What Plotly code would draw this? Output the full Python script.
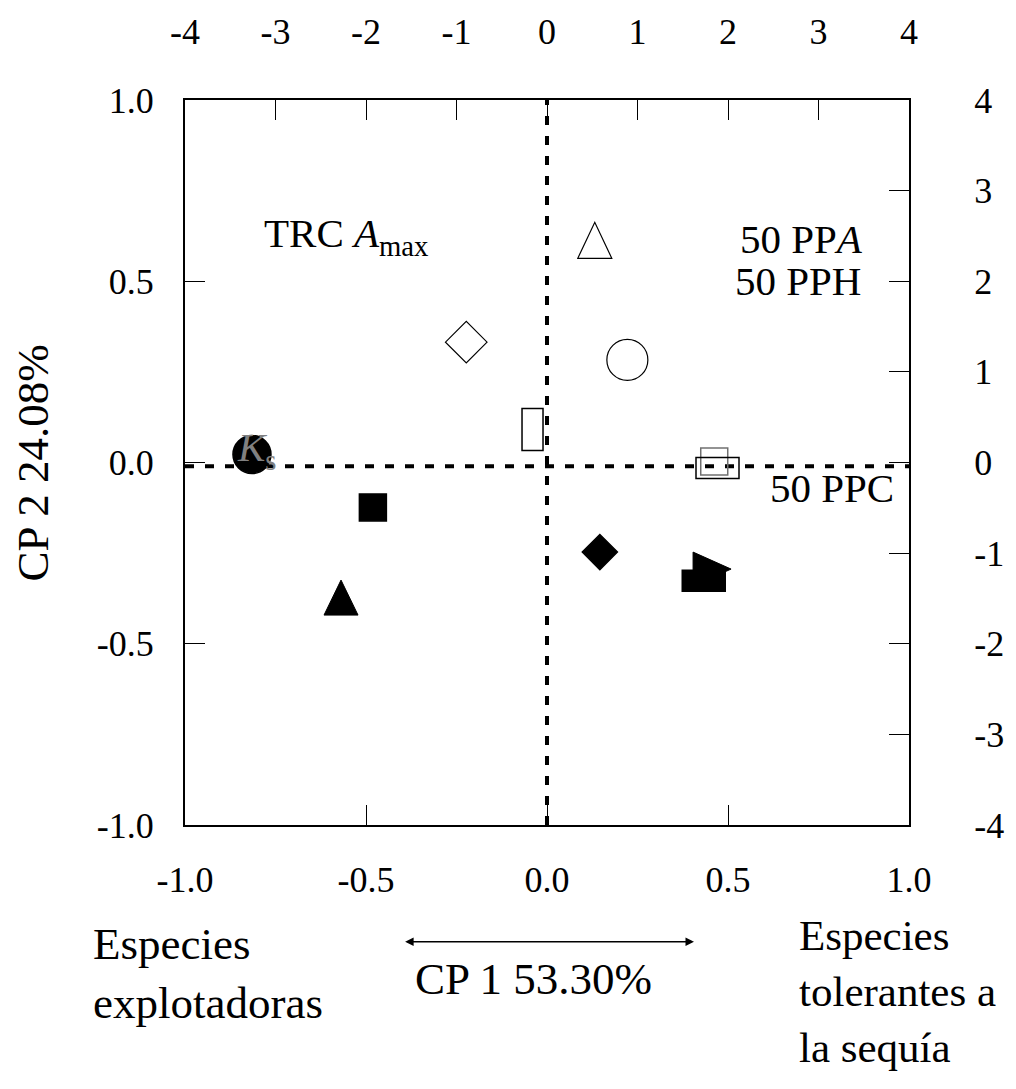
import plotly.graph_objects as go

# ---- data (CP1, CP2 scores) ----
filled_circle_x = [-0.815]; filled_circle_y = [0.022]
filled_square_x = [-0.481]; filled_square_y = [-0.124]
filled_triup_x = [-0.569]; filled_triup_y = [-0.374]
open_diamond_x = [-0.223]; open_diamond_y = [0.332]
open_triup_x = [0.132]; open_triup_y = [0.613]
open_circle_x = [0.222]; open_circle_y = [0.283]
open_square_x = [0.462]; open_square_y = [0.003]
filled_diamond_x = [0.146]; filled_diamond_y = [-0.247]
open_tallrect_x = [-0.040]; open_tallrect_y = [0.091]
open_widerect_x = [0.471]; open_widerect_y = [-0.015]
filled_widerect_x = [0.433]; filled_widerect_y = [-0.326]
filled_triright_x = [0.456]; filled_triright_y = [-0.294]

label_texts = ["<i>K</i><sub>s</sub>", "TRC <i>A</i><sub>max</sub>", "50 PP<i>A</i>", "50 PPH", "50 PPC"]
label_x = [-0.80, -0.555, 0.703, 0.693, 0.786]
label_y = [0.035, 0.625, 0.617, 0.501, -0.071]
label_colors = ["#808080", "black", "black", "black", "black"]

bottom_ticks = [-1.0, -0.5, 0.0, 0.5, 1.0]
left_ticks = [-1.0, -0.5, 0.0, 0.5, 1.0]
top_ticks = [-4, -3, -2, -1, 0, 1, 2, 3, 4]
right_ticks = [-4, -3, -2, -1, 0, 1, 2, 3, 4]

x_title = "CP 1 53.30%"
y_title = "CP 2 24.08%"
left_note = "Especies<br>explotadoras"
right_note = "Especies<br>tolerantes a<br>la sequía"

FONT = "Liberation Serif, Times New Roman, serif"
TICKF = dict(family=FONT, size=36, color="black")
NOTEF = dict(family=FONT, size=45, color="black")
RNOTEF = dict(family=FONT, size=43, color="black")

fig = go.Figure()

def add_marker(xs, ys, symbol, size, color="black", line_color="black", lw=1.5):
    fig.add_trace(go.Scatter(x=xs, y=ys, mode="markers", showlegend=False,
                             marker=dict(symbol=symbol, size=size, color=color,
                                         line=dict(color=line_color, width=lw))))

add_marker(filled_circle_x, filled_circle_y, "circle", 38)
add_marker(filled_square_x, filled_square_y, "square", 27)
add_marker(open_diamond_x, open_diamond_y, "diamond-open", 32, color="black", lw=1.2)
add_marker(open_circle_x, open_circle_y, "circle-open", 41, color="black", lw=1.2)
add_marker(filled_diamond_x, filled_diamond_y, "diamond", 27)
add_marker(open_square_x, open_square_y, "square-open", 27, color="#707070", lw=1.5)

# pixel-sized polygon markers anchored at data positions
def path_marker(xs, ys, path, fill, line_color, lw=1.5):
    for x, y in zip(xs, ys):
        fig.add_shape(type="path", xref="x", yref="y", xsizemode="pixel", ysizemode="pixel",
                      xanchor=x, yanchor=y, path=path,
                      fillcolor=fill, line=dict(color=line_color, width=lw), layer="above")

def rect_marker(xs, ys, w, h, fill, line_color):
    for x, y in zip(xs, ys):
        fig.add_shape(type="rect", xref="x", yref="y", xsizemode="pixel", ysizemode="pixel",
                      xanchor=x, yanchor=y, x0=-w / 2, x1=w / 2, y0=-h / 2, y1=h / 2,
                      fillcolor=fill, line=dict(color=line_color, width=1.5), layer="above")

path_marker(filled_triup_x, filled_triup_y, "M-17,-17 L17,-17 L0,18 Z", "black", "black", 1)
path_marker(open_triup_x, open_triup_y, "M-17,-18 L17,-18 L0,18 Z", "rgba(0,0,0,0)", "black", 1.2)
rect_marker(open_tallrect_x, open_tallrect_y, 21, 42, "rgba(0,0,0,0)", "black")
rect_marker(open_widerect_x, open_widerect_y, 43, 21, "rgba(0,0,0,0)", "black")
path_marker(filled_triright_x, filled_triright_y, "M-19,17 L19,0 L-19,-17 Z", "black", "black", 1)
rect_marker(filled_widerect_x, filled_widerect_y, 43, 21, "black", "black")

# dotted reference lines
fig.add_shape(type="line", xref="x", yref="y", x0=-1, x1=1, y0=-0.01, y1=-0.01,
              line=dict(color="black", width=4, dash="9px,11px"), layer="below")
fig.add_shape(type="line", xref="x", yref="y", x0=0.0, x1=0.0, y0=-1, y1=1,
              line=dict(color="black", width=4, dash="9px,11px"), layer="below")

# labels
for t, x, y, c in zip(label_texts, label_x, label_y, label_colors):
    fig.add_annotation(text=t, x=x, y=y, xref="x", yref="y", showarrow=False,
                       font=dict(family=FONT, size=41, color=c), xanchor="center", yanchor="middle")

# secondary axes traces (invisible) to activate top/right axes
fig.add_trace(go.Scatter(x=[None], y=[None], xaxis="x2", yaxis="y2", showlegend=False))

fig.update_layout(
    width=1016, height=1089,
    margin=dict(l=185, r=103, t=97, b=264),
    plot_bgcolor="white", paper_bgcolor="white",
    showlegend=False,
    xaxis=dict(range=[-1, 1], tickvals=bottom_ticks, ticktext=["%.1f" % v for v in bottom_ticks],
               ticks="inside", ticklen=20, tickwidth=1, tickcolor="black",
               showgrid=False, zeroline=False, showline=True, linecolor="black",
               linewidth=2, mirror=False, tickfont=TICKF, ticklabelstandoff=22),
    yaxis=dict(range=[-1, 1], tickvals=left_ticks, ticktext=["%.1f" % v for v in left_ticks],
               ticks="inside", ticklen=20, tickwidth=1, tickcolor="black",
               showgrid=False, zeroline=False, showline=True, linecolor="black",
               linewidth=2, mirror=False, tickfont=TICKF, ticklabelstandoff=22),
    xaxis2=dict(range=[-4, 4], overlaying="x", side="top", anchor="y",
                tickvals=top_ticks, ticktext=[str(v) for v in top_ticks],
                ticks="inside", ticklen=20, tickwidth=1, tickcolor="black",
                showgrid=False, zeroline=False, showline=True, linecolor="black", linewidth=2,
                tickfont=TICKF, ticklabelstandoff=40),
    yaxis2=dict(range=[-4, 4], overlaying="y", side="right", anchor="x",
                tickvals=right_ticks, ticktext=[str(v) for v in right_ticks],
                ticks="inside", ticklen=20, tickwidth=1, tickcolor="black",
                showgrid=False, zeroline=False, showline=True, linecolor="black", linewidth=2,
                tickfont=TICKF, ticklabelstandoff=56),
)

# axis titles and notes
fig.add_annotation(text=y_title, x=-0.210, y=0.5, xref="paper", yref="paper", showarrow=False,
                   textangle=-90, font=NOTEF, xanchor="center", yanchor="middle")
fig.add_annotation(text=x_title, x=0.481, y=-0.212, xref="paper", yref="paper", showarrow=False,
                   font=NOTEF, xanchor="center", yanchor="middle")
fig.add_annotation(text=left_note, x=-0.130, y=-0.205, xref="paper", yref="paper", showarrow=False,
                   font=NOTEF, xanchor="left", yanchor="middle", align="left")
fig.add_annotation(text=right_note, x=0.845, y=-0.230, xref="paper", yref="paper", showarrow=False,
                   font=RNOTEF, xanchor="left", yanchor="middle", align="left")
# double-headed arrow
fig.add_annotation(x=0.703, y=-0.161, ax=0.302, ay=-0.161, xref="x domain", yref="y domain",
                   axref="x domain", ayref="y domain", text="", showarrow=True,
                   arrowhead=2, startarrowhead=2, arrowside="end+start",
                   arrowwidth=1.3, arrowsize=1.3, startarrowsize=1.3, arrowcolor="black")

fig.write_html("out.html")
